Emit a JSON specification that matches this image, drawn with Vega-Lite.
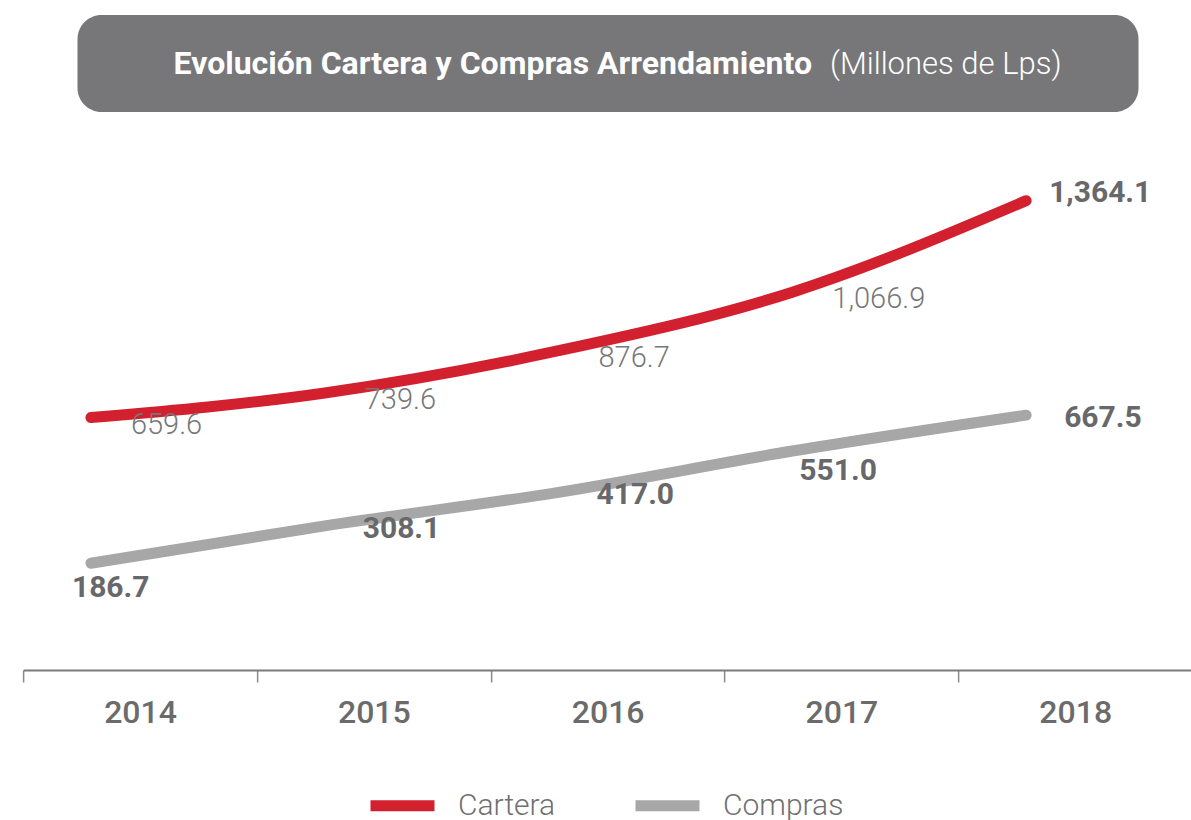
{
  "$schema": "https://vega.github.io/schema/vega-lite/v6.json",
  "padding": {"left": 22, "top": 15, "right": 0, "bottom": 0},
  "background": "white",
  "center": true,
  "spacing": 16,
  "config": {"view": {"stroke": null}, "font": "Roboto"},
  "datasets": {
    "banner": [{"title": "Evolución Cartera y Compras Arrendamiento", "unit": "(Millones de Lps)"}],
    "series": [
      {"year": "2014", "serie": "Cartera", "value": 659.6},
      {"year": "2015", "serie": "Cartera", "value": 739.6},
      {"year": "2016", "serie": "Cartera", "value": 876.7},
      {"year": "2017", "serie": "Cartera", "value": 1066.9},
      {"year": "2018", "serie": "Cartera", "value": 1364.1},
      {"year": "2014", "serie": "Compras", "value": 186.7},
      {"year": "2015", "serie": "Compras", "value": 308.1},
      {"year": "2016", "serie": "Compras", "value": 417.0},
      {"year": "2017", "serie": "Compras", "value": 551.0},
      {"year": "2018", "serie": "Compras", "value": 667.5}
    ]
  },
  "vconcat": [
    {
      "width": 1061,
      "height": 97,
      "view": {"fill": "#77777a", "cornerRadius": 24, "stroke": null},
      "data": {"name": "banner"},
      "layer": [
        {
          "mark": {"type": "text", "align": "right", "baseline": "alphabetic", "dx": 204, "dy": 10, "font": "Roboto", "fontSize": 32, "fontWeight": "bold", "color": "#ffffff"},
          "encoding": {"text": {"field": "title"}}
        },
        {
          "mark": {"type": "text", "align": "left", "baseline": "alphabetic", "dx": 222, "dy": 10, "font": "Roboto", "fontSize": 31, "fontWeight": 300, "color": "#ffffff"},
          "encoding": {"text": {"field": "unit"}}
        }
      ]
    },
    {
      "width": 1169,
      "height": 542,
      "data": {"name": "series"},
      "encoding": {
        "x": {
          "field": "year", "type": "ordinal", "bandPosition": 0.29,
          "scale": {"type": "band", "paddingInner": 0, "paddingOuter": 0},
          "axis": {
            "title": null, "labelAngle": 0, "tickBand": "extent", "tickSize": 12, "tickWidth": 1.5,
            "tickColor": "#8a8a8a", "domainColor": "#7a7a7a", "domainWidth": 2,
            "labelFont": "Roboto", "labelFontSize": 32, "labelFontWeight": 500, "labelColor": "#6b6b6b",
            "labelPadding": 15, "grid": false
          }
        },
        "y": {"field": "value", "type": "quantitative", "scale": {"domain": [-160, 1600], "nice": false, "zero": false}, "axis": null}
      },
      "layer": [
        {
          "mark": {"type": "line", "strokeWidth": 11, "strokeCap": "round", "strokeJoin": "round", "interpolate": "monotone"},
          "encoding": {
            "color": {
              "field": "serie", "type": "nominal",
              "scale": {"domain": ["Cartera", "Compras"], "range": ["#d3202f", "#a7a7a7"]},
              "legend": {
                "title": null, "orient": "none", "legendX": 342, "legendY": 753, "direction": "horizontal",
                "symbolType": "stroke", "symbolSize": 4096, "symbolStrokeWidth": 11,
                "labelFont": "Roboto", "labelFontSize": 30, "labelFontWeight": 300, "labelColor": "#707070",
                "labelOffset": 18, "columnPadding": 57
              }
            }
          }
        },
        {
          "transform": [{"filter": "datum.serie == 'Cartera' && datum.year != '2018'"}],
          "mark": {"type": "text", "align": "left", "baseline": "alphabetic", "dx": 40, "dy": 16, "fontSize": 29, "fontWeight": 300, "color": "#77777a"},
          "encoding": {"text": {"field": "value", "type": "quantitative", "format": ",.1f"}}
        },
        {
          "transform": [{"filter": "datum.serie == 'Cartera' && datum.year == '2018'"}],
          "mark": {"type": "text", "align": "left", "baseline": "alphabetic", "dx": 23, "dy": 1, "fontSize": 30, "fontWeight": "bold", "color": "#68686a"},
          "encoding": {"text": {"field": "value", "type": "quantitative", "format": ",.1f"}}
        },
        {
          "transform": [{"filter": "datum.serie == 'Compras' && (datum.year == '2015' || datum.year == '2016' || datum.year == '2018')"}],
          "mark": {"type": "text", "align": "left", "baseline": "alphabetic", "dx": 38, "dy": 12, "fontSize": 30, "fontWeight": "bold", "color": "#68686a"},
          "encoding": {"text": {"field": "value", "type": "quantitative", "format": ",.1f"}}
        },
        {
          "transform": [{"filter": "datum.serie == 'Compras' && datum.year == '2014'"}],
          "mark": {"type": "text", "align": "left", "baseline": "alphabetic", "dx": -19, "dy": 34, "fontSize": 30, "fontWeight": "bold", "color": "#68686a"},
          "encoding": {"text": {"field": "value", "type": "quantitative", "format": ",.1f"}}
        },
        {
          "transform": [{"filter": "datum.serie == 'Compras' && datum.year == '2017'"}],
          "mark": {"type": "text", "align": "left", "baseline": "alphabetic", "dx": 7, "dy": 29, "fontSize": 30, "fontWeight": "bold", "color": "#68686a"},
          "encoding": {"text": {"field": "value", "type": "quantitative", "format": ",.1f"}}
        }
      ]
    }
  ]
}
